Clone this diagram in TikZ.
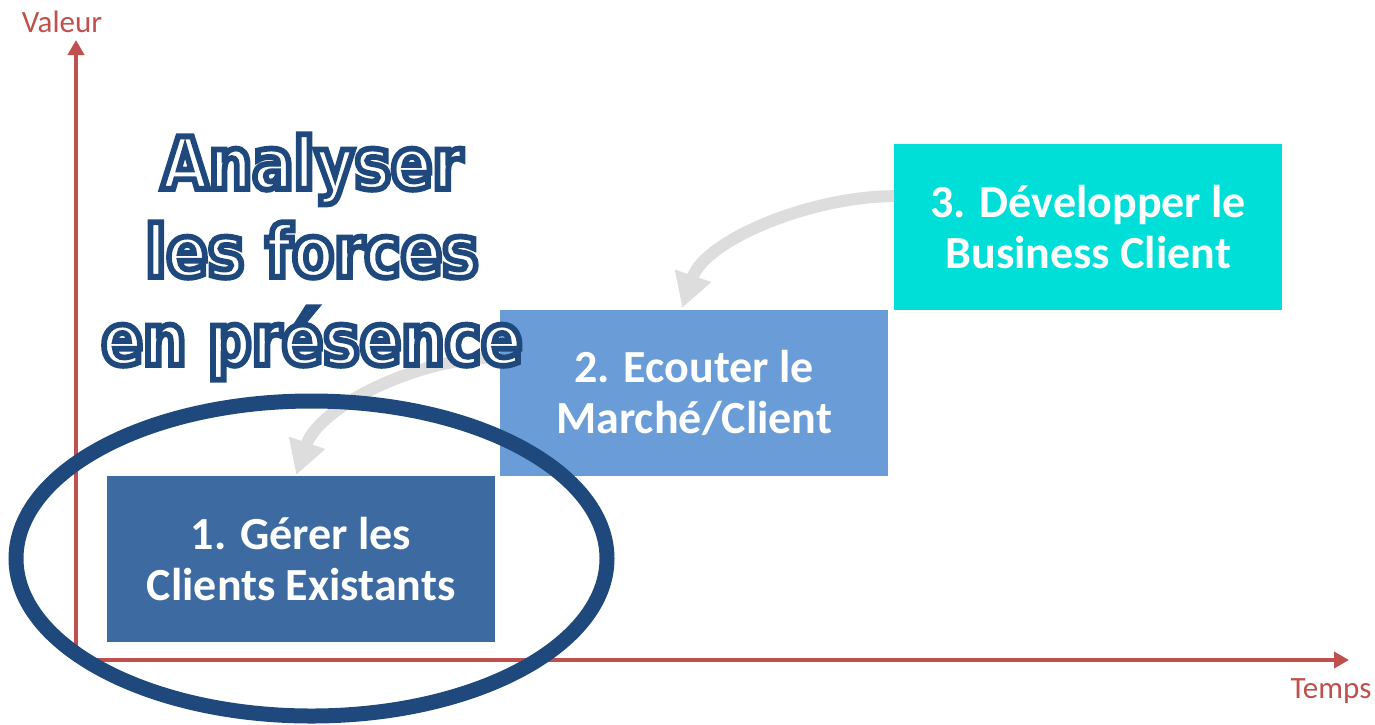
\documentclass[tikz,border=0pt]{standalone}
\usepackage{fontspec}
\setmainfont{Carlito}
\newfontfamily\titlefont{DejaVu Sans}[BoldFeatures={FakeBold=8,FakeStretch=0.85}]
\usetikzlibrary{arrows.meta}
\definecolor{axisred}{HTML}{C0504D}
\definecolor{darkblue}{HTML}{1F497D}
\definecolor{boxone}{HTML}{3D6AA0}
\definecolor{boxtwo}{HTML}{6A9DD8}
\definecolor{boxthree}{HTML}{00DED8}
\definecolor{arrowgray}{HTML}{DDDDDD}
\begin{document}
\begin{tikzpicture}[x=1pt,y=-1pt,
  stepbox/.style={fill=#1, draw=none, minimum width=388pt, minimum height=166pt,
    inner sep=0pt, anchor=north west, text=white,
    font=\bfseries\fontsize{46}{51}\selectfont, align=center},
  axisline/.style={axisred, line width=4pt, -{Triangle[length=15pt,width=16pt]}},
  flow/.style={arrowgray, line width=12pt, -{Triangle[length=34pt,width=36pt]}},
  axislabel/.style={text=axisred, font=\fontsize{31}{36}\selectfont, inner sep=0pt},
  titletext/.style={text=white, font=\titlefont\bfseries\fontsize{72}{88}\selectfont,
    align=center, inner sep=0pt},
]
\useasboundingbox (0,0) rectangle (1375,724);
% axes
\coordinate (origin) at (76,661);
\coordinate (ytop) at (76,40);
\coordinate (xend) at (1349,660);
\draw[axisline] (origin) -- (ytop);
\draw[axisline] ([xshift=-2pt]origin|-xend) -- (xend);
\node[axislabel] (valeur) at (62,22) {Valeur};
\node[axislabel] (temps) at (1331,691) {Temps};
% boxes
\node[stepbox=boxone] (b1) at (107,476) {1. Gérer les\\Clients Existants};
\node[stepbox=boxtwo] (b2) at (500,310) {2. Ecouter le\\Marché/Client};
\node[stepbox=boxthree] (b3) at (894,144) {3. Développer le\\Business Client};
% curved arrows
\draw[flow] ([yshift=31pt]b3.west) .. controls +(-83,0) and +(23,-68) .. ([xshift=-12pt,yshift=2pt]b2.north);
\draw[flow] ([yshift=36pt]b2.west) .. controls +(-83,0) and +(23,-68) .. ([xshift=-5pt,yshift=1pt]b1.north);
% title
\node[titletext] (title) at (312,257) {\special{pdf:literal direct 0.122 0.286 0.490 RG}Analyser\\les forces\\en présence};
% highlight ellipse
\draw[darkblue, line width=15pt] (311.5,558.5) ellipse [x radius=295.5, y radius=157.5];
\end{tikzpicture}
\end{document}
